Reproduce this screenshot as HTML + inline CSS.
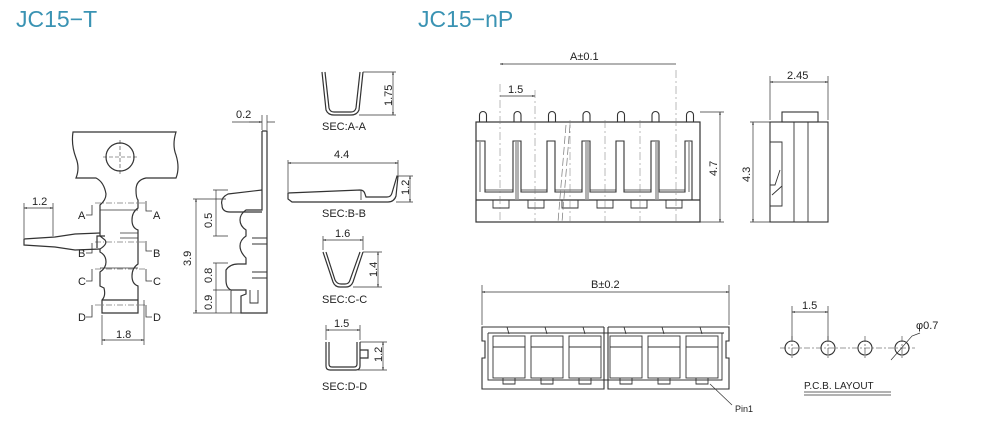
<!DOCTYPE html>
<html><head><meta charset="utf-8"><style>
html,body{margin:0;padding:0;background:#fff;}
svg{display:block;}
text{font-family:"Liberation Sans",sans-serif;fill:#222;}
</style></head><body>
<svg width="989" height="431" viewBox="0 0 989 431" xmlns="http://www.w3.org/2000/svg">
<defs>
<marker id="a" viewBox="0 0 10 10" refX="10" refY="5" markerWidth="6" markerHeight="4" orient="auto-start-reverse"><path d="M0,2 L10,5 L0,8z" fill="#222"/></marker>
</defs>
<text x="16" y="27" style="font-size:23px;fill:#3a93b3">JC15−T</text>
<text x="418" y="27" style="font-size:23px;fill:#3a93b3">JC15−nP</text>

<g fill="none" stroke="#333" stroke-width="1.2">
<path d="M73,132 L176,132 Q172,145 176,155 Q180,168 176,178 L146,178 Q136,180 136,190 Q136,198 138,200 L138,208 Q132,212 132,220 Q132,228 138,230 L138,264 Q132,268 132,276 Q132,284 138,286 L138,300 L138,313 L102,313 L102,300 Q106,296 104,288 L100,286 L100,272 Q106,268 106,262 Q106,255 100,252 L100,249 Q108,244 105,240 L100,236 L100,205 Q106,200 106,194 Q104,182 96,178 L76,178 Q80,168 76,158 Q71,145 73,132Z"/>
<circle cx="120" cy="157" r="14"/>
<path d="M120,140 V174 M103,157 H137" stroke-dasharray="4,2" stroke-width="0.6"/>
<path d="M100,233 L75,234 L55,237 L24,239 L24,245 L55,247 L75,250 L100,249" />
<path d="M105,236 L97,236 L97,248" />
<path d="M100,210 H138 M100,268 H138 M120,233 H138 M120,238 H138" stroke-width="0.8"/>
<path d="M102,300 H138" />
<path d="M95,203 H146 M95,242 H146 M95,269 H146 M95,305 H146" stroke-dasharray="6,2,1,2" stroke-width="0.5"/>
<path d="M92,205 V215 H86 M146,201 V211 H152 M92,243 V253 H86 M146,241 V251 H152 M92,269 V281 H86 M146,269 V281 H152 M92,305 V317 H86 M146,305 V317 H152" stroke-width="0.8"/>
<path d="M24,203 V238 M53,203 V236" stroke-width="0.7"/>
<path d="M24,208 H53" stroke-width="0.7" marker-start="url(#a)" marker-end="url(#a)"/>
<path d="M102,315 V345 M144,300 V345" stroke-width="0.7"/>
<path d="M102,340 H144" stroke-width="0.7" marker-start="url(#a)" marker-end="url(#a)"/>

<path d="M262,131 L267,131 L267,313 L241,313 L241,296 L246,294 L246,290 L231,290 Q226,288 226,280 L226,270 Q230,264 238,264 L246,264 L246,258 Q240,252 240,246 Q240,240 246,236 L246,230 Q240,226 240,220 Q240,214 246,210 L262,210 L262,131"/>
<path d="M262,190 L228,194 Q220,198 222,205 Q222,212 230,212 L262,212" />
<path d="M252,238 H267 M252,244 H267 M252,272 H267 M252,278 H267 M250,290 V303 H258 V290" stroke-width="0.9"/>
<path d="M231,290 V313" stroke-width="0.9"/>
<path d="M232,122 H262 M267,122 H275" stroke-width="0.7"/>
<path d="M249,122 H262" stroke-width="0.7" marker-end="url(#a)"/>
<path d="M262,115 V130 M267,115 V130" stroke-width="0.7"/>
<path d="M193,199 H226 M193,313 H241" stroke-width="0.7"/>
<path d="M196,199 V313" stroke-width="0.7" marker-start="url(#a)" marker-end="url(#a)"/>
<path d="M213,190 H228 M213,236 H228 M213,263 H228 M213,290 H230" stroke-width="0.7"/>
<path d="M216,190 V236 M216,263 V290 M216,290 V313" stroke-width="0.7"/>

<path d="M322,72 L326,110 Q328,115 334,115 L351,115 Q357,115 359,110 L363,72 M325,72 L329,108 Q330,112 334,112 L351,112 Q355,112 356,108 L360,72"/>
<path d="M363,72 H396 M359,115 H396" stroke-width="0.7"/>
<path d="M393,72 V115" stroke-width="0.7" marker-start="url(#a)" marker-end="url(#a)"/>
<path d="M288,199 L288,193 L360,190 Q364,190 365,194 L366,197 L387,197 Q391,197 392,193 L397,176 L398,176 L396,196 Q394,202 388,202 L292,202 L288,199Z"/>
<path d="M361,190 L361,200" stroke-width="0.8"/>
<path d="M288,160 V192 M398,160 V175 M398,176 H413 M396,202 H413" stroke-width="0.7"/>
<path d="M288,163 H398" stroke-width="0.7" marker-start="url(#a)" marker-end="url(#a)"/>
<path d="M410,176 V202" stroke-width="0.7" marker-start="url(#a)" marker-end="url(#a)"/>
<path d="M323,252 L333,282 Q335,287 340,287 L346,287 Q351,287 353,282 L363,252 M326,252 L335,280 Q337,284 341,284 L345,284 Q349,284 350,280 L360,252"/>
<path d="M323,236 V250 M363,236 V250 M363,252 H382 M353,287 H382" stroke-width="0.7"/>
<path d="M323,240 H363" stroke-width="0.7" marker-start="url(#a)" marker-end="url(#a)"/>
<path d="M378,252 V287" stroke-width="0.7" marker-start="url(#a)" marker-end="url(#a)"/>
<path d="M326,342 L326,366 Q326,370 330,370 L356,370 Q360,370 360,366 L360,342 M329,342 L329,364 Q329,367 332,367 L354,367 Q357,367 357,364 L357,342 M360,350 H368 V358 H360"/>
<path d="M326,325 V340 M360,325 V340 M360,342 H387 M358,370 H387" stroke-width="0.7"/>
<path d="M326,330 H360" stroke-width="0.7" marker-start="url(#a)" marker-end="url(#a)"/>
<path d="M383,342 V370" stroke-width="0.7" marker-start="url(#a)" marker-end="url(#a)"/>

<rect x="476" y="122" width="224" height="100"/>
<path d="M476,200 H700"/>
</g>
<g fill="none" stroke="#333" stroke-width="1.1">
<path d="M479.5,122 V115 A3.5,3.5 0 0 1 486.5,115 V122 M514,122 V115 A3.5,3.5 0 0 1 521,115 V122 M548.5,122 V115 A3.5,3.5 0 0 1 555.5,115 V122 M583,122 V115 A3.5,3.5 0 0 1 590,115 V122 M617.5,122 V115 A3.5,3.5 0 0 1 624.5,115 V122 M652,122 V115 A3.5,3.5 0 0 1 659,115 V122 M686.5,122 V115 A3.5,3.5 0 0 1 693.5,115 V122"/>
<path d="M476,141 H485 V192 H513 V141 H521 V192 H547 V141 H555 V192 H582 V141 H590 V192 H616 V141 H624 V192 H651 V141 H659 V192 H685 V141 H692 V200"/>
<path d="M485,190 H513 M521,190 H547 M555,190 H582 M590,190 H616 M624,190 H651 M659,190 H685" stroke-width="0.8"/>
<path d="M476,200 H493 V208 H509 V200 H528 V208 H544 V200 H562 V208 H578 V200 H597 V208 H613 V200 H631 V208 H647 V200 H666 V208 H682 V200" stroke-width="0.9"/>
<path d="M516,141 V200 M518,141 V200 M586,141 V200 M588,141 V200 M656,141 V200 M658,141 V200 M480,141 V192 M689,141 V192" stroke="#999" stroke-width="1.5"/>
<path d="M566,125 L558,222 M570,125 L562,222" stroke="#777" stroke-width="0.7" stroke-dasharray="8,3"/>
<path d="M500,84 V222 M535,90 V222 M676,70 V222 M570,120 V222 M605,120 V222 M640,120 V222" stroke="#777" stroke-width="0.5" stroke-dasharray="8,3,2,3"/>
<path d="M500,64 H676 M500,96 H535" stroke-width="0.7" marker-start="url(#a)" marker-end="url(#a)"/>
<path d="M700,112 H724 M700,222 H724" stroke-width="0.7"/>
<path d="M720,112 V222" stroke-width="0.7" marker-start="url(#a)" marker-end="url(#a)"/>
<rect x="770" y="122" width="58" height="100"/>
<rect x="782" y="112" width="36" height="10"/>
<path d="M794,122 V222 M808,122 V222 M770,142 H782 V206 H770 M770,185 H775 L780,170 M772,195 L782,186" stroke-width="0.9"/>
<path d="M770,76 V120 M828,76 V120 M750,122 H770 M750,222 H770" stroke-width="0.7"/>
<path d="M770,82 H828" stroke-width="0.7" marker-start="url(#a)" marker-end="url(#a)"/>
<path d="M753,122 V222" stroke-width="0.7" marker-start="url(#a)" marker-end="url(#a)"/>
<path d="M604,327 H482 V341 H485 V358 H482 V389 H604 V327 M608,327 H729 V341 H726 V358 H729 V389 H608 V327"/>
<path d="M488,333 H724 M488,333 V380 H722 V333" stroke-width="0.9"/>
<g stroke-width="0.9">
<rect x="493" y="336" width="32" height="42"/><rect x="531" y="336" width="32" height="42"/><rect x="569" y="336" width="32" height="42"/>
<rect x="610" y="336" width="32" height="42"/><rect x="648" y="336" width="32" height="42"/><rect x="686" y="336" width="32" height="42"/>
<path d="M493,347 H525 M531,347 H563 M569,347 H601 M610,347 H642 M648,347 H680 M686,347 H718"/>
<path d="M503,378 V384 H515 V378 M541,378 V384 H553 V378 M579,378 V384 H591 V378 M620,378 V384 H632 V378 M658,378 V384 H670 V378 M696,378 V384 H708 V378"/>
<path d="M507,327 L509,334 M545,327 L547,334 M583,327 L585,334 M624,327 L626,334 M662,327 L664,334 M700,327 L702,334"/>
</g>
<path d="M482,285 V325 M729,285 V325" stroke-width="0.7"/>
<path d="M482,292 H729" stroke-width="0.7" marker-start="url(#a)" marker-end="url(#a)"/>
<path d="M710,384 L732,405" stroke-width="0.7"/>
<circle cx="792" cy="348" r="7"/><circle cx="828" cy="348" r="7"/><circle cx="865" cy="348" r="7"/><circle cx="902" cy="348" r="7"/>
<path d="M780,348 H915 M792,336 V360 M828,336 V360 M865,336 V360 M902,336 V360" stroke-width="0.6" stroke-dasharray="6,2,2,2"/>
<path d="M792,306 V340 M828,306 V340" stroke-width="0.7"/>
<path d="M792,312 H828" stroke-width="0.7" marker-start="url(#a)" marker-end="url(#a)"/>
<path d="M891,360 L912,336 L920,333" stroke-width="0.7"/>
<path d="M804,392 H891 M804,395 H891" stroke-width="0.8"/>
</g>

<g style="font-size:11px">
<text x="32" y="205">1.2</text>
<text x="78" y="219">A</text><text x="153" y="219">A</text>
<text x="78" y="257">B</text><text x="153" y="257">B</text>
<text x="78" y="285">C</text><text x="153" y="285">C</text>
<text x="78" y="321">D</text><text x="153" y="321">D</text>
<text x="116" y="338">1.8</text>
<text x="236" y="118">0.2</text>
<text transform="translate(191,266) rotate(-90)">3.9</text>
<text transform="translate(212,228) rotate(-90)">0.5</text>
<text transform="translate(212,283) rotate(-90)">0.8</text>
<text transform="translate(212,310) rotate(-90)">0.9</text>
<text transform="translate(392,106) rotate(-90)">1.75</text>
<text x="322" y="130">SEC:A-A</text>
<text x="334" y="158">4.4</text>
<text transform="translate(409,195) rotate(-90)">1.2</text>
<text x="322" y="217">SEC:B-B</text>
<text x="335" y="237">1.6</text>
<text transform="translate(377,277) rotate(-90)">1.4</text>
<text x="322" y="303">SEC:C-C</text>
<text x="334" y="327">1.5</text>
<text transform="translate(382,362) rotate(-90)">1.2</text>
<text x="322" y="390">SEC:D-D</text>
<text x="570" y="60">A±0.1</text>
<text x="508" y="93">1.5</text>
<text transform="translate(717,176) rotate(-90)">4.7</text>
<text x="787" y="79">2.45</text>
<text transform="translate(750,182) rotate(-90)">4.3</text>
<text x="591" y="288">B±0.2</text>
<text x="802" y="309">1.5</text>
<text x="916" y="329">φ0.7</text>
<text x="804" y="389" style="font-size:10px">P.C.B. LAYOUT</text>
<text x="735" y="412" style="font-size:9px">Pin1</text>
</g>
</svg>
</body></html>
